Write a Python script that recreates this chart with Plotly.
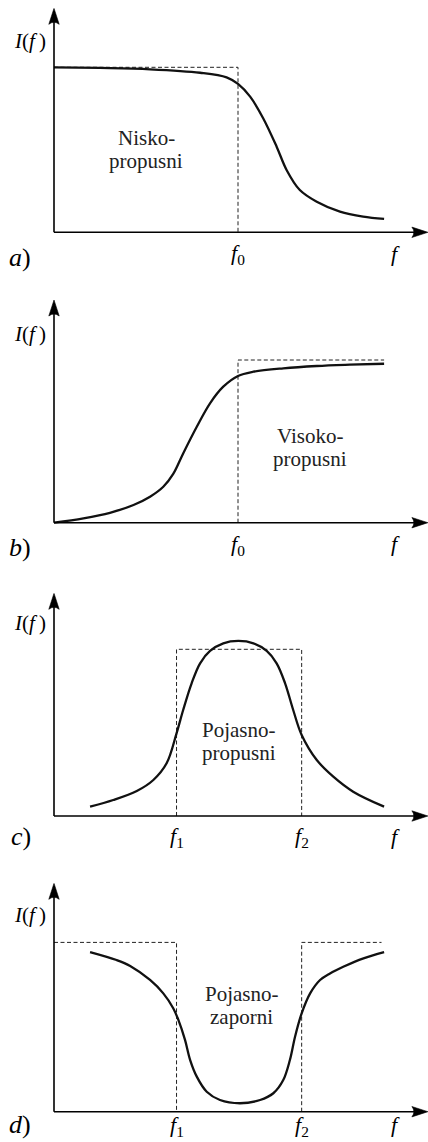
import plotly.graph_objects as go

# ---------------- data ----------------
f0 = 5.0
f1, f2 = 3.33, 6.73
x_tip = 10.16          # end of the f axis (arrow tip)

# a) low-pass
a_x = [0, 1.25, 2.61, 3.97, 4.69, 5.0, 5.33, 5.68, 6.05, 6.32, 6.68, 7.14, 7.77, 8.40, 8.97]
a_y = [1.0, 0.996, 0.988, 0.967, 0.939, 0.899, 0.822, 0.693, 0.519, 0.378, 0.256, 0.185, 0.125, 0.095, 0.081]
a_ideal_x = [0, f0, f0]
a_ideal_y = [1, 1, 0]

# b) high-pass
b_x = [0, 0.80, 1.52, 2.16, 2.61, 2.97, 3.24, 3.51, 3.88, 4.24, 4.60, 5.0, 5.42, 6.23, 7.14, 8.04, 8.97]
b_y = [0, 0.027, 0.061, 0.109, 0.160, 0.221, 0.300, 0.426, 0.590, 0.734, 0.836, 0.902, 0.928, 0.949, 0.963, 0.971, 0.977]
b_ideal_x = [f0, f0, 8.97]
b_ideal_y = [0, 1, 1]

# c) band-pass
c_x = [0.98, 1.61, 2.25, 2.70, 3.06, 3.33, 3.51, 3.74, 3.97, 4.24, 4.60, 5.01,
       5.42, 5.78, 6.05, 6.28, 6.50, 6.73, 7.14, 7.59, 8.13, 8.97]
c_y = [0.056, 0.096, 0.150, 0.216, 0.316, 0.496, 0.636, 0.796, 0.916, 0.990, 1.036, 1.050,
       1.036, 0.990, 0.916, 0.796, 0.636, 0.486, 0.336, 0.236, 0.146, 0.056]
c_ideal_x = [f1, f1, f2, f2]
c_ideal_y = [0, 1, 1, 0]

# d) band-stop
d_x = [0.98, 1.70, 2.07, 2.61, 2.97, 3.24, 3.38, 3.56, 3.70, 3.88, 4.15, 4.51, 5.05,
       5.60, 5.96, 6.23, 6.41, 6.55, 6.73, 6.96, 7.23, 7.50, 7.86, 8.41, 8.97]
d_y = [0.943, 0.896, 0.861, 0.778, 0.699, 0.611, 0.542, 0.424, 0.305, 0.207, 0.118, 0.069, 0.050,
       0.069, 0.109, 0.187, 0.305, 0.443, 0.581, 0.699, 0.778, 0.817, 0.856, 0.906, 0.943]
d_ideal_x = [0, f1, f1, None, f2, f2, 8.90]
d_ideal_y = [1, 1, 0, None, 0, 1, 1]

panel_letters = ["a", "b", "c", "d"]
panel_texts = [["Nisko-", "propusni"], ["Visoko-", "propusni"],
               ["Pojasno-", "propusni"], ["Pojasno-", "zaporni"]]
text_pos = [(2.5, 0.50), (6.96, 0.463), (5.02, 0.447), (5.1, 0.63)]
tick_sets = [[(f0, "0")], [(f0, "0")], [(f1, "1"), (f2, "2")], [(f1, "1"), (f2, "2")]]

curves = [(a_x, a_y), (b_x, b_y), (c_x, c_y), (d_x, d_y)]
ideals = [(a_ideal_x, a_ideal_y), (b_ideal_x, b_ideal_y),
          (c_ideal_x, c_ideal_y), (d_ideal_x, d_ideal_y)]

# ---------------- layout geometry ----------------
W, H = 428, 1142
PX_PER_X = 36.8
Y0_PX = 54                      # pixel position of the I(f) axis
panels = [  # axis row (px), arrow tip (px), px per y unit
    dict(axis=232.3, tip=8.3, unit=165.0, letter_dy=-25, tick_dy=-22),
    dict(axis=522.7, tip=300.0, unit=162.7, letter_dy=-25, tick_dy=-22),
    dict(axis=816.0, tip=593.3, unit=166.7, letter_dy=-20, tick_dy=-21),
    dict(axis=1111.7, tip=883.3, unit=169.3, letter_dy=-13, tick_dy=-14),
]
PAD = 14

FONT = "Liberation Serif, Times New Roman, serif"
fig = go.Figure()
shapes, annotations = [], []
layout_axes = {}

for i, p in enumerate(panels):
    k = "" if i == 0 else str(i + 1)
    xr, yr = "x" + k, "y" + k
    ytop = (p["axis"] - p["tip"]) / p["unit"]
    layout_axes["xaxis" + k] = dict(domain=[0, 1], range=[-Y0_PX / PX_PER_X, (W - Y0_PX) / PX_PER_X],
                                   visible=False, anchor=yr, fixedrange=True)
    layout_axes["yaxis" + k] = dict(domain=[1 - (p["axis"] + PAD) / H, 1 - p["tip"] / H],
                                   range=[-PAD / p["unit"], ytop], visible=False, anchor=xr,
                                   fixedrange=True)

    ix, iy = ideals[i]
    fig.add_trace(go.Scatter(x=ix, y=iy, mode="lines", xaxis=xr, yaxis=yr,
                             line=dict(color="#222", width=1, dash="4px,2.5px"),
                             hoverinfo="skip", showlegend=False))
    cx, cy = curves[i]
    fig.add_trace(go.Scatter(x=cx, y=cy, mode="lines", xaxis=xr, yaxis=yr,
                             line=dict(color="#111", width=2.3, shape="spline", smoothing=1.0),
                             hoverinfo="skip", showlegend=False))

    # axes with arrowheads
    shapes.append(dict(type="line", xref=xr, yref=yr, x0=0, y0=0, x1=x_tip - 0.2, y1=0,
                       line=dict(color="black", width=1.6)))
    shapes.append(dict(type="line", xref=xr, yref=yr, x0=0, y0=0, x1=0, y1=ytop - 0.05,
                       line=dict(color="black", width=1.6)))
    shapes.append(dict(type="path", xref=xr, yref=yr, xsizemode="pixel", ysizemode="pixel",
                       xanchor=x_tip, yanchor=0,
                       path="M0,0 L-16,5.2 Q-12,0 -16,-5.2 Z",
                       fillcolor="black", line=dict(color="black", width=0.6)))
    shapes.append(dict(type="path", xref=xr, yref=yr, xsizemode="pixel", ysizemode="pixel",
                       xanchor=0, yanchor=ytop,
                       path="M0,0 L-5.2,-16 Q0,-12 5.2,-16 Z",
                       fillcolor="black", line=dict(color="black", width=0.6)))

    # labels
    annotations.append(dict(xref=xr, yref=yr, x=0, y=1.16, xanchor="right", xshift=-6,
                            text="<i>I</i>(<i>f</i>\u2009)", showarrow=False,
                            font=dict(family=FONT, size=21, color="black")))
    annotations.append(dict(xref=xr, yref=yr, x=0, y=0, xanchor="right", xshift=-21,
                            yshift=p["letter_dy"], text="<i>%s</i>)" % panel_letters[i],
                            showarrow=False, font=dict(family=FONT, size=26, color="black")))
    for tx, sub in tick_sets[i]:
        annotations.append(dict(xref=xr, yref=yr, x=tx, y=0, yshift=p["tick_dy"],
                                text="<i>f</i><sub>%s</sub>" % sub, showarrow=False,
                                font=dict(family=FONT, size=22, color="black")))
    annotations.append(dict(xref=xr, yref=yr, x=9.27, y=0, yshift=p["tick_dy"] + 1,
                            text="<i>f</i>", showarrow=False,
                            font=dict(family=FONT, size=22, color="black")))
    tx, ty = text_pos[i]
    for j, line in enumerate(panel_texts[i]):
        annotations.append(dict(xref=xr, yref=yr, x=tx, y=ty, yshift=11.5 - 23 * j,
                                text=line, showarrow=False,
                                font=dict(family=FONT, size=21, color="#222")))

fig.update_layout(width=W, height=H, autosize=False,
                  margin=dict(l=0, r=0, t=0, b=0),
                  paper_bgcolor="white", plot_bgcolor="white",
                  shapes=shapes, annotations=annotations, **layout_axes)

fig.write_html("out.html", config={"displayModeBar": False},
               post_script="document.body.style.margin='0px';document.body.style.padding='0px';")
